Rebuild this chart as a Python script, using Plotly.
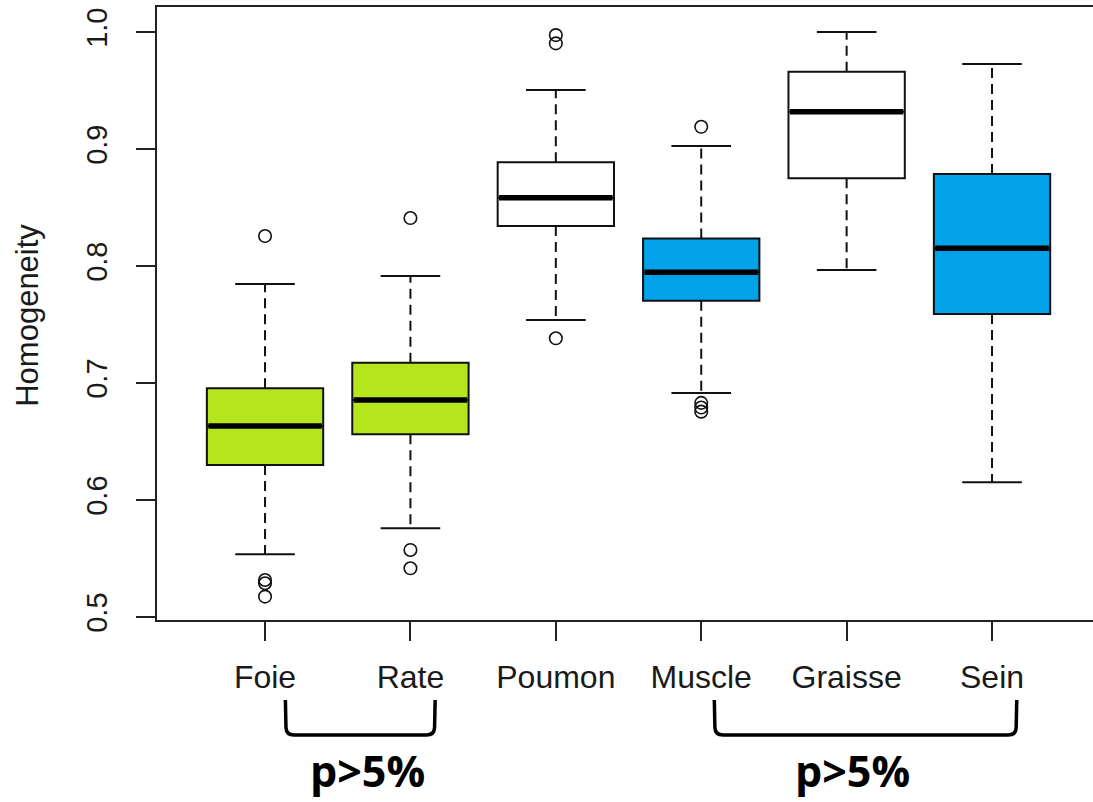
import plotly.graph_objects as go

categories = ["Foie", "Rate", "Poumon", "Muscle", "Graisse", "Sein"]
lower_whisker = [0.5536, 0.5758, 0.7538, 0.6915, 0.7966, 0.6151]
q1 = [0.6300, 0.6561, 0.8342, 0.7704, 0.8750, 0.7590]
median = [0.6632, 0.6855, 0.8584, 0.7946, 0.9319, 0.8151]
q3 = [0.6955, 0.7174, 0.8886, 0.8236, 0.9660, 0.8786]
upper_whisker = [0.7846, 0.7915, 0.9504, 0.9026, 1.0000, 0.9726]
outliers = [
    [0.8256, 0.5316, 0.5288, 0.5174],
    [0.8410, 0.5573, 0.5416],
    [0.9974, 0.9903, 0.7382],
    [0.9190, 0.6830, 0.6790, 0.6755],
    [],
    [],
]
fill_colors = ["#B5E61D", "#B5E61D", "#FFFFFF", "#00A2E8", "#FFFFFF", "#00A2E8"]
y_ticks = [0.5, 0.6, 0.7, 0.8, 0.9, 1.0]
y_tick_labels = ["0.5", "0.6", "0.7", "0.8", "0.9", "1.0"]
brackets = [("Foie", "Rate"), ("Muscle", "Sein")]
bracket_text = "p>5%"

xpos = list(range(1, len(categories) + 1))
box_w = 0.8
cap_w = 0.41

fig = go.Figure()

for i, c in enumerate(categories):
    fig.add_trace(go.Box(
        x=[xpos[i]], q1=[q1[i]], median=[median[i]], q3=[q3[i]],
        lowerfence=[q1[i]], upperfence=[q3[i]],
        width=box_w, fillcolor=fill_colors[i],
        line=dict(color="#111111", width=2),
        boxpoints=False, whiskerwidth=0, showlegend=False, name=c,
        hoverinfo="skip",
    ))

# dashed whiskers
wx, wy = [], []
for i in range(len(categories)):
    wx += [xpos[i], xpos[i], None, xpos[i], xpos[i], None]
    wy += [q3[i], upper_whisker[i], None, q1[i], lower_whisker[i], None]
fig.add_trace(go.Scatter(x=wx, y=wy, mode="lines",
                         line=dict(color="#111111", width=2, dash="10px,6px"),
                         showlegend=False, hoverinfo="skip"))

# staples
sx, sy = [], []
for i in range(len(categories)):
    for v in (upper_whisker[i], lower_whisker[i]):
        sx += [xpos[i] - cap_w / 2, xpos[i] + cap_w / 2, None]
        sy += [v, v, None]
fig.add_trace(go.Scatter(x=sx, y=sy, mode="lines",
                         line=dict(color="#111111", width=2),
                         showlegend=False, hoverinfo="skip"))

# medians
mx, my = [], []
for i in range(len(categories)):
    mx += [xpos[i] - box_w / 2 + 0.01, xpos[i] + box_w / 2 - 0.01, None]
    my += [median[i], median[i], None]
fig.add_trace(go.Scatter(x=mx, y=my, mode="lines",
                         line=dict(color="#000000", width=5.5),
                         showlegend=False, hoverinfo="skip"))

# outliers
ox, oy = [], []
for i in range(len(categories)):
    for v in outliers[i]:
        ox.append(xpos[i])
        oy.append(v)
fig.add_trace(go.Scatter(x=ox, y=oy, mode="markers",
                         marker=dict(symbol="circle-open", size=12.5,
                                     color="#111111", line=dict(width=1.6)),
                         showlegend=False, hoverinfo="skip"))

# significance brackets (below the axis)
y_top = -0.1305
y_bot = -0.1876
r = 0.012
text_offsets = [0.05, -0.09]
for k, (a, b) in enumerate(brackets):
    xa = xpos[categories.index(a)] + 0.14
    xb = xpos[categories.index(b)] + 0.17
    if k == 1:
        xa = xpos[categories.index(a)] + 0.09
    path = (f"M {xa},{y_top} L {xa+0.004},{y_bot + r} Q {xa+0.006},{y_bot} {xa+0.06},{y_bot} "
            f"L {xb-0.06},{y_bot} Q {xb-0.006},{y_bot} {xb-0.004},{y_bot + r} L {xb},{y_top}")
    fig.add_shape(type="path", path=path, xref="x", yref="paper",
                  line=dict(color="#000000", width=3.5))
    fig.add_annotation(x=(xa + xb) / 2 + text_offsets[k], y=-0.2455, xref="x", yref="paper",
                       text=f"<b>{bracket_text}</b>", showarrow=False,
                       xanchor="center", yanchor="middle",
                       font=dict(family="Open Sans", size=43, color="#000000"))

fig.add_annotation(x=-0.1384, y=0.497, xref="paper", yref="paper",
                   text="Homogeneity", textangle=-90, showarrow=False,
                   xanchor="center", yanchor="middle",
                   font=dict(family="Liberation Sans, Arial", size=31, color="#1a1a1a"))

x0 = 0.257
fig.update_layout(
    width=1093, height=802,
    margin=dict(l=157, r=0, t=7, b=182),
    paper_bgcolor="white", plot_bgcolor="white",
    font=dict(family="Liberation Sans, Arial", color="#1a1a1a"),
    showlegend=False,
    xaxis=dict(range=[x0, x0 + 936 / 145.4], tickvals=xpos, ticktext=categories,
               showgrid=False, zeroline=False, showline=True, mirror=True,
               linecolor="#222222", linewidth=2, ticks="outside", ticklen=19,
               tickwidth=2, tickcolor="#222222", tickfont=dict(size=32),
               ticklabelstandoff=9),
    yaxis=dict(range=[0.4974, 1.0214], tickvals=y_ticks, ticktext=y_tick_labels,
               showgrid=False, zeroline=False, showline=True, mirror=False,
               linecolor="#222222", linewidth=2, ticks="outside", ticklen=19,
               tickwidth=2, tickcolor="#222222", tickfont=dict(size=29),
               tickangle=-90, ticklabelstandoff=17),
)

fig.write_html("out.html")
